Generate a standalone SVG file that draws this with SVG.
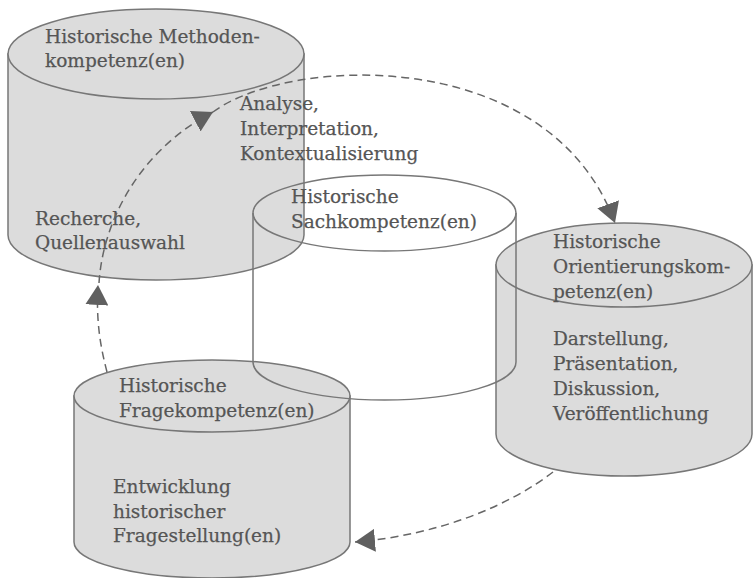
<svg xmlns="http://www.w3.org/2000/svg" width="753" height="578" viewBox="0 0 753 578">
<style>
.body{fill:#dcdcdc;stroke:#777;stroke-width:1.5}
.top{fill:#dcdcdc;stroke:#777;stroke-width:1.5}
.clear{fill:none;stroke:#777;stroke-width:1.5}
text{font-family:"DejaVu Serif","Liberation Serif",serif;font-size:18.5px;fill:#555;stroke:#555;stroke-width:0.25}
.conn{fill:none;stroke:#666;stroke-width:1.5;stroke-dasharray:8 5}
</style>
<defs>
<marker id="ah" viewBox="0 0 20 23" refX="20" refY="11.5" markerWidth="20" markerHeight="23" markerUnits="userSpaceOnUse" orient="auto">
<path d="M0,0 L20,11.5 L0,23 z" fill="#606060"/>
</marker>
</defs>
<rect width="753" height="578" fill="#fff"/>
<g id="methoden">
<path class="body" d="M8,54 L8,235 A148,45 0 0 0 304,235 L304,54 z"/>
<ellipse class="top" cx="156" cy="54" rx="148" ry="45"/>
<text x="45" y="43">Historische Methoden-</text>
<text x="45" y="67">kompetenz(en)</text>
<text x="240" y="110">Analyse,</text>
<text x="240" y="135">Interpretation,</text>
<text x="240" y="160">Kontextualisierung</text>
<text x="35" y="225">Recherche,</text>
<text x="35" y="249">Quellenauswahl</text>
</g>
<g id="orientierung">
<path class="body" d="M496,265 L496,434 A128,42 0 0 0 752,434 L752,265 z"/>
<ellipse class="top" cx="624" cy="265" rx="128" ry="42"/>
<text x="553" y="248">Historische</text>
<text x="553" y="273">Orientierungskom-</text>
<text x="553" y="298">petenz(en)</text>
<text x="553" y="345">Darstellung,</text>
<text x="553" y="370">Präsentation,</text>
<text x="553" y="395">Diskussion,</text>
<text x="553" y="420">Veröffentlichung</text>
</g>
<g id="frage">
<path class="body" d="M74,396 L74,542 A138,36 0 0 0 350,542 L350,396 z"/>
<ellipse class="top" cx="212" cy="396" rx="138" ry="36"/>
<text x="119" y="392">Historische</text>
<text x="119" y="417">Fragekompetenz(en)</text>
<text x="113" y="493">Entwicklung</text>
<text x="113" y="518">historischer</text>
<text x="113" y="542">Fragestellung(en)</text>
</g>
<g id="sach">
<path class="clear" d="M253,213 L253,362 A131.5,38 0 0 0 516,362 L516,213"/>
<ellipse class="clear" cx="384.5" cy="213" rx="131.5" ry="38"/>
<text x="291" y="203">Historische</text>
<text x="291" y="228">Sachkompetenz(en)</text>
</g>
<g id="connectors">
<path class="conn" d="M107,372 C100,345 96,320 98,285" marker-end="url(#ah)"/>
<path class="conn" d="M99,283 C103,220 140,150 213,112" marker-end="url(#ah)"/>
<path class="conn" d="M213,112 C290,55 550,45 615,223" marker-end="url(#ah)"/>
<path class="conn" d="M553,472 C510,505 440,535 355,542" marker-end="url(#ah)"/>
</g>
</svg>
